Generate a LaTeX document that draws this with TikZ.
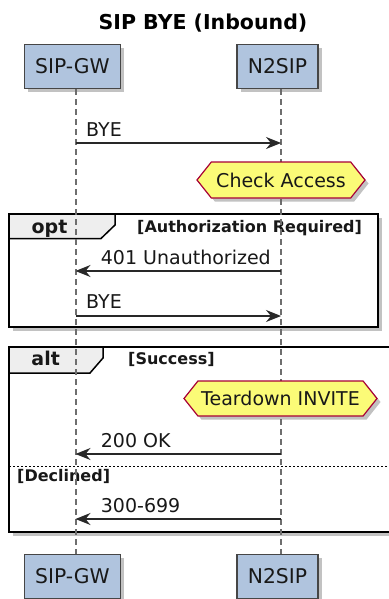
\documentclass[tikz,border=0pt]{standalone}
\usepackage{fontspec}
\setmainfont{DejaVu Sans}
\usetikzlibrary{arrows.meta,shapes.symbols,shadows}
\pgfdeclarelayer{framelayer}
\pgfdeclarelayer{lifelayer}
\pgfsetlayers{framelayer,lifelayer,main}
\definecolor{partfill}{RGB}{176,196,222}
\definecolor{partline}{RGB}{70,70,70}
\definecolor{notefill}{RGB}{251,251,119}
\definecolor{noteline}{RGB}{168,0,54}
\definecolor{msgline}{RGB}{40,40,40}
\definecolor{lifecol}{RGB}{110,110,110}
\definecolor{tabfill}{RGB}{238,238,238}
\definecolor{txt}{RGB}{24,24,24}
\begin{document}
\begin{tikzpicture}[x=1pt,y=-1pt,
  shad/.style={drop shadow={shadow xshift=3.5pt,shadow yshift=-3.5pt,opacity=0.4,fill=gray!80!black}},
  part/.style={draw=partline, line width=1.5pt, fill=partfill, minimum height=44pt,
    inner sep=0pt, font=\fontsize{20.3}{24}\selectfont, text=txt, shad},
  lifeline/.style={draw=lifecol, line width=2pt, dash pattern=on 6pt off 4pt},
  frame/.style={draw=black, line width=2.8pt, fill=white, shad},
  tabshape/.style={draw=black, line width=1.5pt, fill=tabfill},
  tabtext/.style={font=\bfseries\fontsize{19}{23}\selectfont, text=txt, inner sep=0pt},
  guard/.style={font=\bfseries\fontsize{16}{19}\selectfont, text=txt, inner sep=0pt},
  note/.style={shape=signal, signal to=west and east, signal pointer angle=103,
    draw=noteline, line width=1.2pt, fill=notefill, inner sep=0pt,
    font=\fontsize{19}{23}\selectfont, text=txt, shad},
  msg/.style={draw=msgline, line width=1.3pt,
    -{Stealth[length=15pt,width=12pt,inset=5pt]}},
  lbl/.style={font=\fontsize{19}{23}\selectfont, text=txt, inner sep=0pt, anchor=base west},
  sep/.style={draw=black, line width=1pt, dash pattern=on 2pt off 2pt}
]
\useasboundingbox (0,0) rectangle (388,599);

% title
\node[font=\bfseries\fontsize{20.5}{24}\selectfont, text=black, inner sep=0pt, anchor=base] (title) at (203,29.5) {SIP BYE (Inbound)};

% participants
\node[part, minimum width=96pt] (gwtop) at (72.5,66.5) {SIP-GW};
\node[part, minimum width=81pt] (n2top) at (277.5,66.5) {N2SIP};
\node[part, minimum width=96pt] (gwbot) at (72.5,576.5) {SIP-GW};
\node[part, minimum width=81pt] (n2bot) at (277.5,576.5) {N2SIP};

% lifelines
\begin{pgfonlayer}{lifelayer}
\draw[lifeline] ([xshift=3pt]gwtop.south) -- ([xshift=3pt]gwbot.north);
\draw[lifeline] ([xshift=3.5pt]n2top.south) -- ([xshift=3.5pt]n2bot.north);
\end{pgfonlayer}

% frames
\begin{pgfonlayer}{framelayer}
\path[frame] (9,214) rectangle (378,327);
\path[tabshape] (9,214) -- (115,214) -- (115,225) -- (101,238.5) -- (9,238.5) -- cycle;
\node[tabtext, anchor=base] (optlbl) at (49.5,233) {opt};
\node[guard, anchor=base west] (optguard) at (137,232) {[Authorization Required]};

\path[frame] (9,347) rectangle (398,532);
\path[tabshape] (9,347) -- (103,347) -- (103,358) -- (90,373) -- (9,373) -- cycle;
\node[tabtext, anchor=base] (altlbl) at (45.7,365.5) {alt};
\node[guard, anchor=base west] (altguard) at (128,364.5) {[Success]};
\coordinate (sepL) at (9,466.7);
\coordinate (sepR) at (398,466.7);
\draw[sep] (sepL) -- (sepR);
\node[guard, anchor=base west] (declined) at (17,481.5) {[Declined]};
\end{pgfonlayer}

% notes
\node[note, minimum width=168pt, minimum height=36pt] (check) at (281,180) {Check Access};
\node[note, minimum width=193pt, minimum height=35pt] (tear) at (280.5,398.5) {Teardown INVITE};

% message anchors
\coordinate (g1) at (75.5,143); \coordinate (n1) at (281,143);
\coordinate (g2) at (75.5,271); \coordinate (n2) at (281,271);
\coordinate (g3) at (75.5,316); \coordinate (n3) at (281,316);
\coordinate (g4) at (75.5,454); \coordinate (n4) at (281,454);
\coordinate (g5) at (75.5,519); \coordinate (n5) at (281,519);

\draw[msg] (g1) -- (n1);
\node[lbl] (m1) at (86,136) {BYE};
\draw[msg] (n2) -- (g2);
\node[lbl] (m2) at (100.7,264.5) {401 Unauthorized};
\draw[msg] (g3) -- (n3);
\node[lbl] (m3) at (86,308) {BYE};
\draw[msg] (n4) -- (g4);
\node[lbl] (m4) at (100.7,447) {200 OK};
\draw[msg] (n5) -- (g5);
\node[lbl] (m5) at (100.7,512) {300-699};
\end{tikzpicture}
\end{document}
